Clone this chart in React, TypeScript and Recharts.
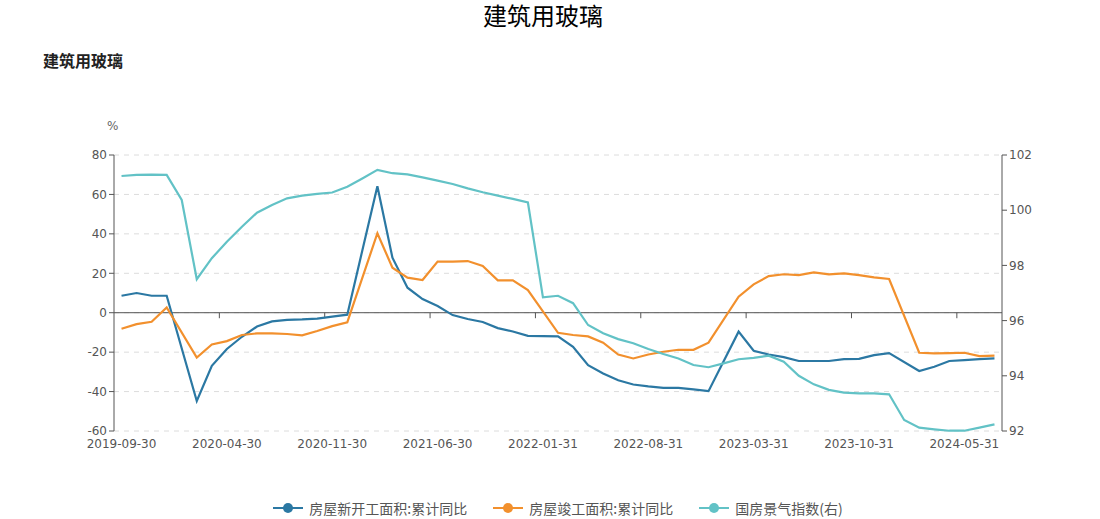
import { CartesianGrid, Line, LineChart, ReferenceLine, XAxis, YAxis } from "recharts"

const dates = [
  "2019-09-30", "2019-10-31", "2019-11-30", "2019-12-31",
  "2020-01-31", "2020-02-29", "2020-03-31", "2020-04-30", "2020-05-31", "2020-06-30",
  "2020-07-31", "2020-08-31", "2020-09-30", "2020-10-31", "2020-11-30", "2020-12-31",
  "2021-01-31", "2021-02-28", "2021-03-31", "2021-04-30", "2021-05-31", "2021-06-30",
  "2021-07-31", "2021-08-31", "2021-09-30", "2021-10-31", "2021-11-30", "2021-12-31",
  "2022-01-31", "2022-02-28", "2022-03-31", "2022-04-30", "2022-05-31", "2022-06-30",
  "2022-07-31", "2022-08-31", "2022-09-30", "2022-10-31", "2022-11-30", "2022-12-31",
  "2023-01-31", "2023-02-28", "2023-03-31", "2023-04-30", "2023-05-31", "2023-06-30",
  "2023-07-31", "2023-08-31", "2023-09-30", "2023-10-31", "2023-11-30", "2023-12-31",
  "2024-01-31", "2024-02-29", "2024-03-31", "2024-04-30", "2024-05-31", "2024-06-30",
  "2024-07-31",
]

// 房屋新开工面积:累计同比 (%)
const newStart = [
  8.6, 10.0, 8.6, 8.6,
  null, -44.8, -26.9, -18.4, -12.2, -7.0, -4.4, -3.6, -3.4, -3.0, -2.0, -1.0,
  null, 64.2, 27.9, 12.7, 6.9, 3.4, -1.2, -3.2, -4.7, -7.8, -9.5, -11.7,
  null, -12.0, -17.3, -26.6, -30.8, -34.3, -36.4, -37.4, -38.1, -38.1, -38.9, -39.8,
  null, -9.6, -19.3, -21.2, -22.5, -24.5, -24.5, -24.5, -23.5, -23.4, -21.5, -20.5,
  null, -29.6, -27.4, -24.5, -24.0, -23.5, -23.2,
]

// 房屋竣工面积:累计同比 (%)
const completed = [
  -8.1, -5.8, -4.6, 2.7,
  null, -22.7, -16.1, -14.4, -11.3, -10.5, -10.5, -10.8, -11.5, -9.3, -6.8, -4.9,
  null, 40.3, 22.8, 17.8, 16.6, 25.9, 25.9, 26.2, 23.7, 16.4, 16.4, 11.5,
  null, -10.2, -11.3, -12.0, -15.2, -21.2, -23.2, -21.2, -19.8, -18.8, -18.8, -15.2,
  null, 8.1, 14.4, 18.6, 19.5, 19.1, 20.5, 19.5, 20.0, 19.1, 17.9, 17.1,
  null, -20.3, -20.6, -20.5, -20.3, -22.0, -21.8,
]

// 国房景气指数 (右轴)
const climate = [
  101.24, 101.28, 101.29, 101.28,
  100.37, 97.5, 98.26, 98.86, 99.4, 99.91, 100.19, 100.43, 100.53, 100.59, 100.64, 100.85,
  101.15, 101.46, 101.34, 101.3, 101.19, 101.07, 100.95, 100.79, 100.65, 100.53, 100.41, 100.28,
  96.84, 96.9, 96.63, 95.84, 95.54, 95.33, 95.18, 94.97, 94.79, 94.63, 94.39, 94.31,
  94.45, 94.6, 94.65, 94.73, 94.51, 94.0, 93.69, 93.49, 93.39, 93.36, 93.36, 93.33,
  92.4, 92.12, 92.06, 92.01, 92.01, 92.12, 92.24,
]

const labelIdx = [0, 7, 14, 21, 28, 35, 42, 49, 56]
const leftTicks = [-60, -40, -20, 0, 20, 40, 60, 80]
const rightTicks = [92, 94, 96, 98, 100, 102]

const series = [
  { key: "newStart", name: "房屋新开工面积:累计同比", color: "#2b78a3", axis: "left" },
  { key: "completed", name: "房屋竣工面积:累计同比", color: "#f2902d", axis: "left" },
  { key: "climate", name: "国房景气指数(右)", color: "#62c2c6", axis: "right" },
]

const data = dates.map((d, i) => ({
  i,
  date: d,
  newStart: newStart[i],
  completed: completed[i],
  climate: climate[i],
}))

const axisColor = "#555"
const tickStyle = { fill: "#555", fontSize: 12 }

function LegendIcon({ color }: { color: string }) {
  return (
    <svg width={30} height={12} style={{ marginRight: 6 }}>
      <line x1={0} y1={6} x2={30} y2={6} stroke={color} strokeWidth={2} />
      <circle cx={15} cy={6} r={5} fill={color} />
    </svg>
  )
}

export default function App() {
  return (
    <div
      style={{
        position: "absolute",
        left: 0,
        top: 0,
        width: 1100,
        height: 519,
        background: "#fff",
        fontFamily: "'DejaVu Sans', sans-serif",
      }}
    >
      <div
        style={{
          position: "absolute",
          top: 2,
          left: 0,
          width: 1086,
          textAlign: "center",
          fontSize: 24,
          lineHeight: "26px",
          color: "#000",
          fontFamily: "'Noto Sans CJK SC', sans-serif",
        }}
      >
        建筑用玻璃
      </div>
      <div
        style={{
          position: "absolute",
          top: 48,
          left: 43,
          fontSize: 16,
          fontWeight: "bold",
          color: "#222",
          fontFamily: "'Noto Sans CJK SC', sans-serif",
        }}
      >
        建筑用玻璃
      </div>
      <div style={{ position: "absolute", top: 119, left: 107, fontSize: 12, color: "#666" }}>%</div>

      <LineChart
        width={1100}
        height={519}
        data={data}
        margin={{ top: 155, right: 38, bottom: 58, left: 54 }}
      >
        <CartesianGrid
          yAxisId="left"
          vertical={false}
          stroke="#dcdcdc"
          strokeDasharray="5 5"
        />
        <XAxis
          dataKey="i"
          type="number"
          domain={[-0.5, dates.length - 0.5]}
          ticks={labelIdx}
          tickFormatter={(v) => dates[v]}
          axisLine={false}
          tickLine={false}
          tick={tickStyle}
          height={30}
          allowDataOverflow
        />
        <YAxis
          yAxisId="left"
          domain={[-60, 80]}
          ticks={leftTicks}
          width={60}
          axisLine={{ stroke: axisColor }}
          tickLine={{ stroke: axisColor }}
          tickSize={5}
          tick={tickStyle}
        />
        <YAxis
          yAxisId="right"
          orientation="right"
          domain={[92, 102]}
          ticks={rightTicks}
          width={60}
          axisLine={{ stroke: axisColor }}
          tickLine={{ stroke: axisColor }}
          tickSize={5}
          tick={tickStyle}
        />
        <ReferenceLine yAxisId="left" y={0} stroke={axisColor} />
        {labelIdx.slice(1).map((k) => (
          <ReferenceLine
            key={k}
            yAxisId="left"
            segment={[
              { x: k - 0.5, y: 0 },
              { x: k - 0.5, y: -2.8 },
            ]}
            stroke={axisColor}
          />
        ))}
        {series.map((s) => (
          <Line
            key={s.key}
            yAxisId={s.axis}
            type="linear"
            dataKey={s.key}
            name={s.name}
            stroke={s.color}
            strokeWidth={2.2}
            dot={false}
            connectNulls
            isAnimationActive={false}
          />
        ))}
      </LineChart>

      <div
        style={{
          position: "absolute",
          top: 498,
          left: 114,
          width: 888,
          display: "flex",
          justifyContent: "center",
          alignItems: "center",
          gap: 26,
          fontSize: 14,
          color: "#555",
          fontFamily: "'Noto Sans CJK SC', sans-serif",
        }}
      >
        {series.map((s) => (
          <div key={s.key} style={{ display: "flex", alignItems: "center" }}>
            <LegendIcon color={s.color} />
            <span>{s.name}</span>
          </div>
        ))}
      </div>
    </div>
  )
}
